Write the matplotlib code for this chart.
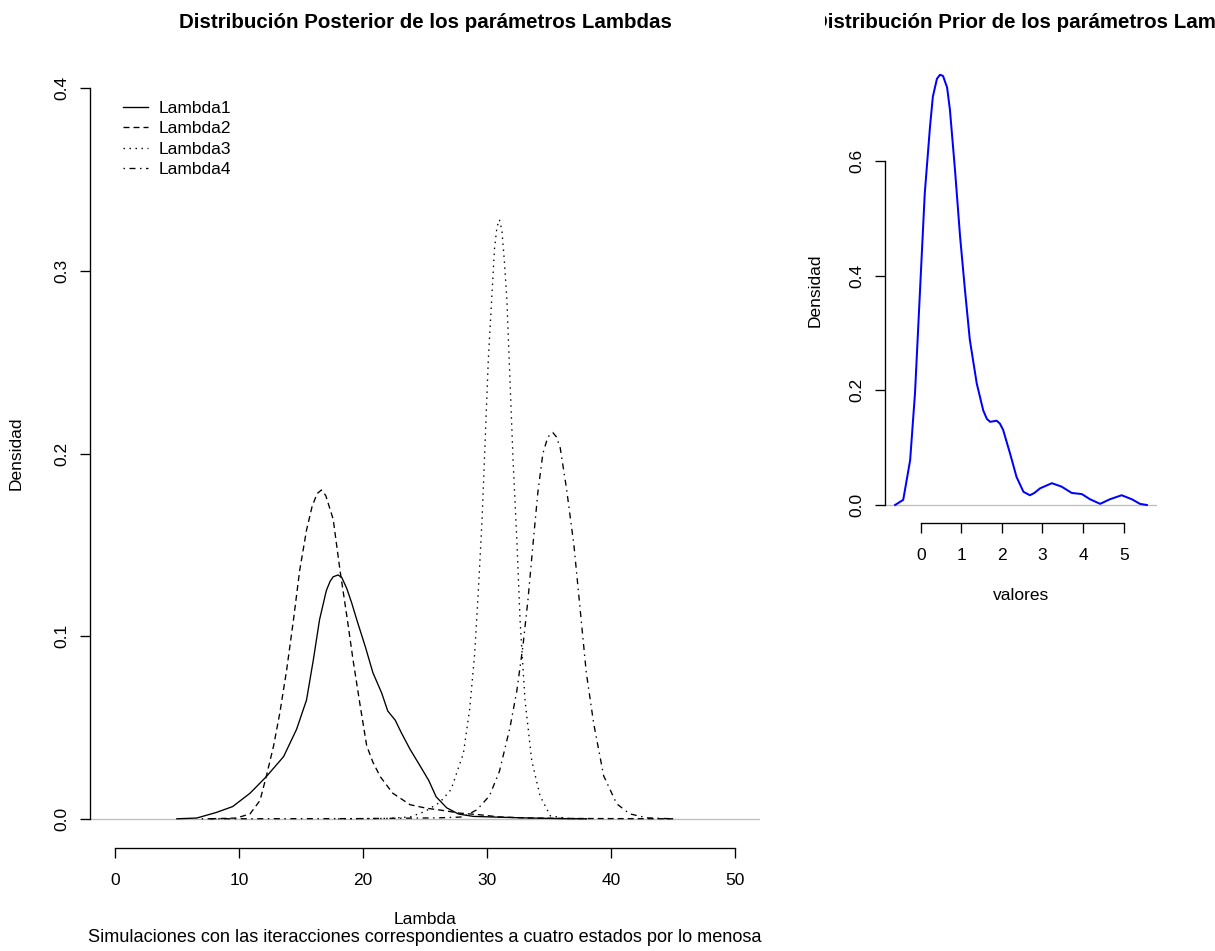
import matplotlib.pyplot as plt
from matplotlib.transforms import Bbox, TransformedBbox

# posterior densities
lam1_x = [5.0, 6.6, 8.2, 9.5, 10.9, 12.2, 13.6, 14.65, 15.45, 16.0, 16.5, 17.05, 17.35, 17.6, 18.0,
          18.3, 18.7, 19.1, 19.5, 20.2, 20.8, 21.5, 22.0, 22.6, 23.1, 23.8, 24.6, 25.3, 25.9, 26.75,
          27.7, 28.9, 30.8, 33.5, 36.0, 38.0]
lam1_y = [0.0, 0.0004, 0.0035, 0.0067, 0.014, 0.023, 0.034, 0.049, 0.065, 0.087, 0.109, 0.125, 0.130,
          0.1325, 0.1335, 0.132, 0.126, 0.118, 0.109, 0.094, 0.080, 0.069, 0.059, 0.054, 0.047, 0.038,
          0.029, 0.021, 0.012, 0.006, 0.0026, 0.0013, 0.0009, 0.0004, 0.0001, 0.0]

lam2_x = [7.7, 9.8, 10.9, 11.7, 12.2, 12.8, 13.3, 13.85, 14.4, 14.9, 15.45, 15.9, 16.3, 16.65, 17.0,
          17.6, 18.15, 18.7, 19.2, 19.75, 20.3, 20.8, 21.4, 22.4, 23.8, 25.1, 26.5, 27.8, 29.4, 31.0,
          33.0, 36.0, 40.0, 45.0]
lam2_y = [0.0, 0.0004, 0.0027, 0.010, 0.023, 0.040, 0.058, 0.0815, 0.109, 0.136, 0.158, 0.171, 0.178,
          0.180, 0.177, 0.164, 0.136, 0.111, 0.087, 0.063, 0.040, 0.031, 0.023, 0.014, 0.0077, 0.0058,
          0.0045, 0.0031, 0.0022, 0.001, 0.0005, 0.0002, 0.0001, 0.0]

lam3_x = [18.0, 22.0, 23.8, 25.0, 26.2, 27.1, 28.1, 28.6, 29.0, 29.3, 29.6, 29.85, 30.1, 30.37, 30.6,
          30.8, 31.0, 31.2, 31.4, 31.6, 31.85, 32.1, 32.4, 32.66, 33.06, 33.6, 34.27, 35.1, 36.5, 38.0]
lam3_y = [0.0, 0.0002, 0.001, 0.004, 0.009, 0.016, 0.036, 0.060, 0.090, 0.125, 0.164, 0.207, 0.251,
          0.284, 0.312, 0.324, 0.328, 0.322, 0.305, 0.284, 0.240, 0.196, 0.153, 0.109, 0.065, 0.032,
          0.0126, 0.0016, 0.0002, 0.0]

lam4_x = [7.0, 20.0, 26.0, 28.1, 29.2, 30.2, 31.0, 31.85, 32.4, 32.9, 33.3, 33.7, 34.1, 34.5, 34.9,
          35.3, 35.6, 35.9, 36.4, 37.0, 37.5, 38.0, 38.6, 39.4, 40.45, 41.5, 42.9, 45.0]
lam4_y = [0.0, 0.0001, 0.0005, 0.001, 0.005, 0.0126, 0.026, 0.050, 0.070, 0.095, 0.120, 0.150, 0.179,
          0.200, 0.209, 0.2115, 0.209, 0.203, 0.181, 0.150, 0.115, 0.080, 0.052, 0.0235, 0.0082,
          0.0027, 0.0005, 0.0]

# prior density
prior_x = [-0.63, -0.43, -0.26, -0.14, -0.02, 0.10, 0.23, 0.30, 0.40, 0.475, 0.55, 0.65, 0.72, 0.845,
           0.97, 1.09, 1.21, 1.38, 1.54, 1.63, 1.71, 1.80, 1.87, 1.95, 2.03, 2.20, 2.36, 2.53, 2.69,
           2.80, 2.94, 3.23, 3.47, 3.72, 3.97, 4.17, 4.42, 4.66, 4.95, 5.20, 5.40, 5.57]
prior_y = [0.0, 0.009, 0.078, 0.195, 0.369, 0.543, 0.66, 0.712, 0.743, 0.75, 0.748, 0.728, 0.689,
           0.584, 0.468, 0.375, 0.288, 0.212, 0.165, 0.150, 0.145, 0.146, 0.147, 0.142, 0.131, 0.09,
           0.049, 0.023, 0.017, 0.021, 0.029, 0.038, 0.032, 0.021, 0.019, 0.010, 0.002, 0.010, 0.017,
           0.010, 0.002, 0.0]

series = ['Lambda1', 'Lambda2', 'Lambda3', 'Lambda4']
styles = ['-', (0, (4.5, 3)), (0, (1.1, 3.4)), (0, (1.1, 3.4, 4.5, 3.4))]

W, H = 1215, 951
plt.rcParams['font.family'] = ['Liberation Sans', 'DejaVu Sans']
plt.rcParams['font.size'] = 13
fig = plt.figure(figsize=(W / 96, H / 96), dpi=96)


def px_axes(x0, y0, x1, y1):
    return fig.add_axes([x0 / W, 1 - y1 / H, (x1 - x0) / W, (y1 - y0) / H])


def px_text(x, y, s, **kw):
    return fig.text(x / W, 1 - y / H, s, ha='center', va='center', **kw)


def r_style(ax, xb, yb):
    for s in ['top', 'right']:
        ax.spines[s].set_visible(False)
    ax.spines['left'].set_bounds(*yb)
    ax.spines['bottom'].set_bounds(*xb)
    for s in ['left', 'bottom']:
        ax.spines[s].set_linewidth(1.0)
    ax.tick_params(direction='out', length=7.2, width=1.0, labelsize=13)
    ax.tick_params(axis='x', pad=11.5)
    ax.tick_params(axis='y', pad=8, labelrotation=90)
    for lab in ax.get_yticklabels():
        lab.set_va('center')


# left panel
ax = px_axes(90, 59, 760, 848)
datas = [(lam1_x, lam1_y), (lam2_x, lam2_y), (lam3_x, lam3_y), (lam4_x, lam4_y)]
for (xs, ys), name, ls in zip(datas, series, styles):
    ax.plot(xs, ys, color='black', linestyle=ls, linewidth=1.0, label=name)
ax.axhline(0, color='#BEBEBE', linewidth=1.0, zorder=0)
ax.set_xlim(-2, 52)
ax.set_ylim(-0.016, 0.416)
ax.set_xticks([0, 10, 20, 30, 40, 50])
ax.set_yticks([0.0, 0.1, 0.2, 0.3, 0.4])
ax.set_yticklabels(['0.0', '0.1', '0.2', '0.3', '0.4'])
r_style(ax, (0, 50), (0, 0.4))
ax.legend(loc='upper left', bbox_to_anchor=(0.049, 0.947), frameon=False, fontsize=13,
          handlelength=1.45, handletextpad=0.6, labelspacing=0.3, borderpad=0, borderaxespad=0)

px_text(425, 22, 'Distribución Posterior de los parámetros Lambdas', fontsize=15.4, fontweight='bold')
px_text(16, 453, 'Densidad', rotation=90)
px_text(425, 920, 'Lambda')
px_text(425, 937, 'Simulaciones con las iteracciones correspondientes a cuatro estados por lo menosa',
        fontsize=13.6)

# right panel
ax2 = px_axes(885, 57, 1157, 523)
ax2.plot(prior_x, prior_y, color='blue', linewidth=1.5)
ax2.axhline(0, color='#BEBEBE', linewidth=1.0, zorder=0)
ax2.set_xlim(-0.879, 5.82)
ax2.set_ylim(-0.0314, 0.781)
ax2.set_xticks([0, 1, 2, 3, 4, 5])
ax2.set_yticks([0.0, 0.2, 0.4, 0.6])
ax2.set_yticklabels(['0.0', '0.2', '0.4', '0.6'])
r_style(ax2, (0, 5), (0, 0.6))

# R clips this title at the edge of its figure region
t = px_text(1038, 22, 'Distribución Prior de los parámetros Lambdas', fontsize=15.4, fontweight='bold')
t.set_clip_box(TransformedBbox(Bbox([[825 / W, 0], [1, 1]]), fig.transFigure))
t.set_clip_on(True)
px_text(815, 290, 'Densidad', rotation=90)
px_text(1021, 595, 'valores')

fig.savefig('out.png', dpi=96)
